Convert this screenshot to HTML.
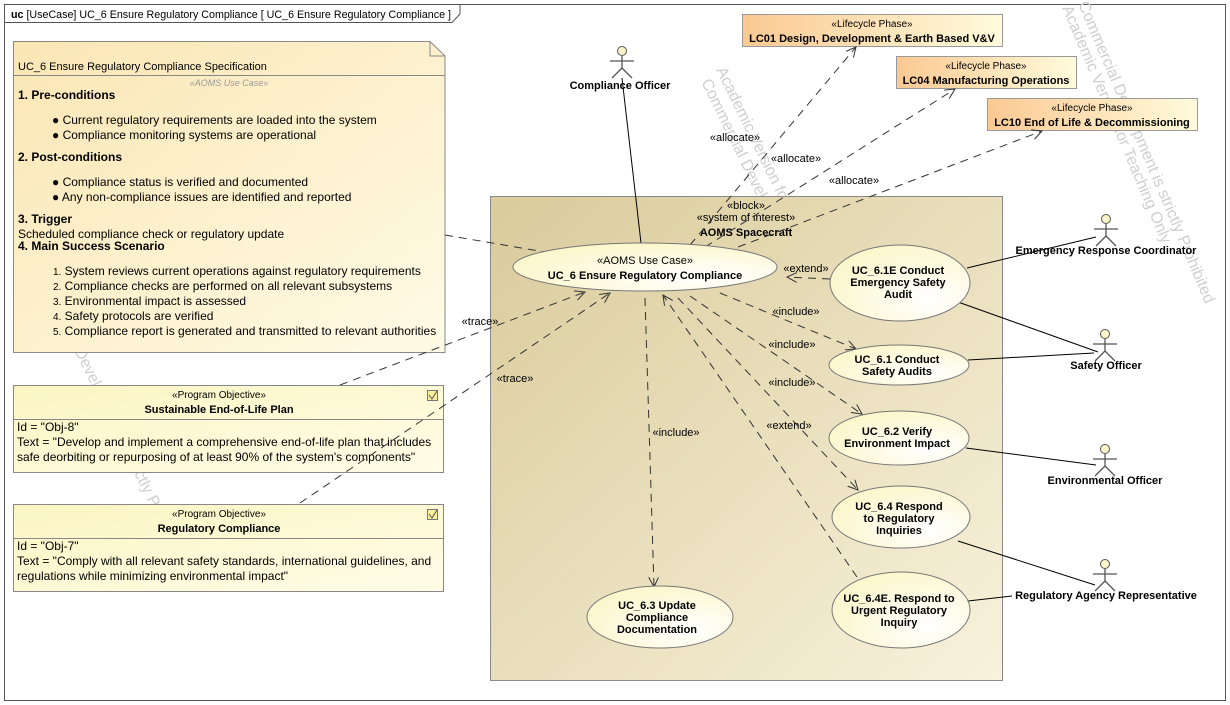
<!DOCTYPE html>
<html><head><meta charset="utf-8"><style>
html,body{margin:0;padding:0;background:#fff;width:1230px;height:705px;overflow:hidden}
svg{display:block}
text{font-family:"Liberation Sans",Arial,sans-serif;font-size:11px;fill:#000}
.b{font-weight:bold}
.d{stroke:#333;stroke-width:1;fill:none;stroke-dasharray:8,6}
.s{stroke:#000;stroke-width:1;fill:none}
.w{fill:#cfcfcf;font-size:16px}
.n{font-size:12px}
</style></head><body>
<svg width="1230" height="705" viewBox="0 0 1230 705" xmlns="http://www.w3.org/2000/svg">
<defs>
<linearGradient id="gn" x1="0" y1="0" x2="1" y2="1"><stop offset="0" stop-color="#fbe6b4"/><stop offset="1" stop-color="#fffbe6"/></linearGradient>
<linearGradient id="gb" x1="0" y1="0" x2="1" y2="1"><stop offset="0" stop-color="#dacb9b"/><stop offset="1" stop-color="#f8f2dc"/></linearGradient>
<linearGradient id="go" x1="0" y1="0" x2="1" y2="0"><stop offset="0" stop-color="#fbc992"/><stop offset="1" stop-color="#fffbdc"/></linearGradient>
<radialGradient id="ge" cx="0.7" cy="0.7" r="0.8"><stop offset="0" stop-color="#ffffff"/><stop offset="1" stop-color="#fbf6c8"/></radialGradient>
<linearGradient id="gp" x1="0" y1="0" x2="1" y2="1"><stop offset="0" stop-color="#fbf5c2"/><stop offset="1" stop-color="#fffde8"/></linearGradient>
<marker id="ar" markerWidth="12" markerHeight="12" refX="10" refY="5" orient="auto" markerUnits="userSpaceOnUse"><path d="M0,0 L10,5 L0,10" fill="none" stroke="#333"/></marker>
<symbol id="actor" viewBox="0 0 30 34"><circle cx="15" cy="5" r="4.5" fill="#fbf6c8" stroke="#555"/><path d="M15,10 V22 M3,15 H27 M15,22 L5,32 M15,22 L25,32" stroke="#555" stroke-width="1.3" fill="none"/></symbol>
</defs>

<rect x="4.5" y="4.5" width="1221" height="696" fill="#fff" stroke="#555"/>
<path d="M4.5,22.5 H452 L460,14 V4.5" fill="none" stroke="#555"/>
<text x="11" y="18" textLength="440" lengthAdjust="spacingAndGlyphs"><tspan class="b">uc</tspan> [UseCase] UC_6 Ensure Regulatory Compliance [ UC_6 Ensure Regulatory Compliance ]</text>

<text class="w" transform="translate(1062,8) rotate(67)">Academic Version for Teaching Only</text>
<text class="w" transform="translate(1078,4) rotate(67)">Commercial Development is strictly Prohibited</text>
<text class="w" transform="translate(716,70) rotate(64)">Academic Version for Teaching Only</text>
<text class="w" transform="translate(701,82) rotate(64)">Commercial Development is strictly Prohibited</text>
<text class="w" transform="translate(35,270) rotate(64)">Commercial Development is strictly Prohibited</text>

<path d="M13.5,41.5 H430 L445,56 V352.5 H13.5 Z" fill="url(#gn)" stroke="#888"/>
<path d="M430,41.5 V56 H445" fill="none" stroke="#888"/>
<line x1="13.5" y1="75.5" x2="445" y2="75.5" stroke="#888"/>
<text x="18" y="70">UC_6 Ensure Regulatory Compliance Specification</text>
<text x="229" y="86" text-anchor="middle" style="font-size:9px;font-style:italic;fill:#999">«AOMS Use Case»</text>
<text x="18" y="99" class="b n">1. Pre-conditions</text>
<text x="52" y="124" class="n">●  Current regulatory requirements are loaded into the system</text>
<text x="52" y="139" class="n">●  Compliance monitoring systems are operational</text>
<text x="18" y="161" class="b n">2. Post-conditions</text>
<text x="52" y="186" class="n">●  Compliance status is verified and documented</text>
<text x="52" y="201" class="n">●  Any non-compliance issues are identified and reported</text>
<text x="18" y="223" class="b n">3. Trigger</text>
<text x="18" y="238" class="n">Scheduled compliance check or regulatory update</text>
<text x="18" y="250" class="b n">4. Main Success Scenario</text>
<text x="53" y="275" class="n"><tspan style="font-size:10px">1.</tspan>  System reviews current operations against regulatory requirements</text>
<text x="53" y="290" class="n"><tspan style="font-size:10px">2.</tspan>  Compliance checks are performed on all relevant subsystems</text>
<text x="53" y="305" class="n"><tspan style="font-size:10px">3.</tspan>  Environmental impact is assessed</text>
<text x="53" y="320" class="n"><tspan style="font-size:10px">4.</tspan>  Safety protocols are verified</text>
<text x="53" y="335" class="n"><tspan style="font-size:10px">5.</tspan>  Compliance report is generated and transmitted to relevant authorities</text>

<rect x="13.5" y="385.5" width="430" height="87" fill="url(#gp)" stroke="#888"/>
<line x1="13.5" y1="419.5" x2="443.5" y2="419.5" stroke="#888"/>
<text x="219" y="398" text-anchor="middle" style="font-size:10px">«Program Objective»</text>
<text x="219" y="413" text-anchor="middle" class="b">Sustainable End-of-Life Plan</text>
<rect x="427.5" y="390.5" width="10" height="10" fill="#fbf0a0" stroke="#777"/><path d="M429,395 L432,399 L437,391" stroke="#555" fill="none"/>
<text x="17" y="431" class="n">Id = "Obj-8"</text>
<text x="17" y="446" class="n">Text = "Develop and implement a comprehensive end-of-life plan that includes</text>
<text x="17" y="461" class="n">safe deorbiting or repurposing of at least 90% of the system's components"</text>

<rect x="13.5" y="504.5" width="430" height="87" fill="url(#gp)" stroke="#888"/>
<line x1="13.5" y1="538.5" x2="443.5" y2="538.5" stroke="#888"/>
<text x="219" y="517" text-anchor="middle" style="font-size:10px">«Program Objective»</text>
<text x="219" y="532" text-anchor="middle" class="b">Regulatory Compliance</text>
<rect x="427.5" y="509.5" width="10" height="10" fill="#fbf0a0" stroke="#777"/><path d="M429,514 L432,518 L437,510" stroke="#555" fill="none"/>
<text x="17" y="550" class="n">Id = "Obj-7"</text>
<text x="17" y="565" class="n">Text = "Comply with all relevant safety standards, international guidelines, and</text>
<text x="17" y="580" class="n">regulations while minimizing environmental impact"</text>

<rect x="742.5" y="14.5" width="260" height="32" fill="url(#go)" stroke="#999"/>
<text x="872" y="27" text-anchor="middle" style="font-size:10px">«Lifecycle Phase»</text>
<text x="872" y="42" text-anchor="middle" class="b">LC01 Design, Development &amp; Earth Based V&amp;V</text>
<rect x="896.5" y="56.5" width="180" height="32" fill="url(#go)" stroke="#999"/>
<text x="986" y="69" text-anchor="middle" style="font-size:10px">«Lifecycle Phase»</text>
<text x="986" y="84" text-anchor="middle" class="b">LC04 Manufacturing Operations</text>
<rect x="987.5" y="98.5" width="210" height="32" fill="url(#go)" stroke="#999"/>
<text x="1092" y="111" text-anchor="middle" style="font-size:10px">«Lifecycle Phase»</text>
<text x="1092" y="126" text-anchor="middle" class="b">LC10 End of Life &amp; Decommissioning</text>

<rect x="490.5" y="196.5" width="512" height="484" fill="url(#gb)" stroke="#888"/>
<text x="746" y="209" text-anchor="middle">«block»</text>
<text x="746" y="221" text-anchor="middle">«system of interest»</text>
<text x="746" y="236" text-anchor="middle" class="b">AOMS Spacecraft</text>

<line class="d" x1="445" y1="235" x2="545" y2="252"/>
<line class="d" x1="690" y1="245" x2="856" y2="47" marker-end="url(#ar)"/>
<line class="d" x1="705" y1="247" x2="955" y2="89" marker-end="url(#ar)"/>
<line class="d" x1="725" y1="252" x2="1042" y2="131" marker-end="url(#ar)"/>
<line class="d" x1="340" y1="385" x2="585" y2="292" marker-end="url(#ar)"/>
<line class="d" x1="300" y1="503" x2="610" y2="293" marker-end="url(#ar)"/>
<line class="d" x1="720" y1="293" x2="856" y2="349" marker-end="url(#ar)"/>
<line class="d" x1="690" y1="296" x2="862" y2="414" marker-end="url(#ar)"/>
<line class="d" x1="678" y1="298" x2="858" y2="490" marker-end="url(#ar)"/>
<line class="d" x1="857" y1="577" x2="663" y2="295" marker-end="url(#ar)"/>
<line class="d" x1="830" y1="279" x2="787" y2="277" marker-end="url(#ar)"/>
<line class="d" x1="645" y1="298" x2="654" y2="587" marker-end="url(#ar)"/>
<text x="735" y="141" text-anchor="middle">«allocate»</text>
<text x="796" y="162" text-anchor="middle">«allocate»</text>
<text x="854" y="184" text-anchor="middle">«allocate»</text>
<text x="480" y="325" text-anchor="middle">«trace»</text>
<text x="515" y="382" text-anchor="middle">«trace»</text>
<text x="796" y="315" text-anchor="middle">«include»</text>
<text x="792" y="348" text-anchor="middle">«include»</text>
<text x="792" y="386" text-anchor="middle">«include»</text>
<text x="789" y="429" text-anchor="middle">«extend»</text>
<text x="806" y="272" text-anchor="middle">«extend»</text>
<text x="676" y="436" text-anchor="middle">«include»</text>

<line class="s" x1="622" y1="78" x2="641" y2="243"/>
<line class="s" x1="967" y1="268" x2="1096" y2="237"/>
<line class="s" x1="958" y1="302" x2="1098" y2="352"/>
<line class="s" x1="968" y1="360" x2="1094" y2="353"/>
<line class="s" x1="966" y1="448" x2="1096" y2="465"/>
<line class="s" x1="958" y1="541" x2="1095" y2="585"/>
<line class="s" x1="968" y1="601" x2="1012" y2="596"/>

<g stroke="#777" fill="url(#ge)">
<ellipse cx="645" cy="267" rx="132" ry="24"/>
<ellipse cx="900" cy="283" rx="70" ry="38"/>
<ellipse cx="899" cy="365" rx="70" ry="20"/>
<ellipse cx="899" cy="438" rx="70" ry="27"/>
<ellipse cx="901" cy="517" rx="69" ry="31"/>
<ellipse cx="901" cy="610" rx="69" ry="38"/>
<ellipse cx="660" cy="617" rx="73" ry="31"/>
</g>
<text x="645" y="264" text-anchor="middle" style="font-size:11px">«AOMS Use Case»</text>
<text x="645" y="279" text-anchor="middle" class="b">UC_6 Ensure Regulatory Compliance</text>
<g text-anchor="middle">
<text x="898" y="274" class="b">UC_6.1E Conduct</text><text x="898" y="286" class="b">Emergency Safety</text><text x="898" y="298" class="b">Audit</text>
<text x="897" y="363" class="b">UC_6.1 Conduct</text><text x="897" y="375" class="b">Safety Audits</text>
<text x="897" y="435" class="b">UC_6.2 Verify</text><text x="897" y="447" class="b">Environment Impact</text>
<text x="899" y="510" class="b">UC_6.4 Respond</text><text x="899" y="522" class="b">to Regulatory</text><text x="899" y="534" class="b">Inquiries</text>
<text x="899" y="602" class="b">UC_6.4E. Respond to</text><text x="899" y="614" class="b">Urgent Regulatory</text><text x="899" y="626" class="b">Inquiry</text>
<text x="657" y="609" class="b">UC_6.3 Update</text><text x="657" y="621" class="b">Compliance</text><text x="657" y="633" class="b">Documentation</text>
</g>

<use href="#actor" x="607" y="46" width="30" height="34"/>
<text x="620" y="89" text-anchor="middle" class="b">Compliance Officer</text>
<use href="#actor" x="1091" y="214" width="30" height="34"/>
<text x="1106" y="254" text-anchor="middle" class="b">Emergency Response Coordinator</text>
<use href="#actor" x="1090" y="329" width="30" height="34"/>
<text x="1106" y="369" text-anchor="middle" class="b">Safety Officer</text>
<use href="#actor" x="1090" y="444" width="30" height="34"/>
<text x="1105" y="484" text-anchor="middle" class="b">Environmental Officer</text>
<use href="#actor" x="1090" y="559" width="30" height="34"/>
<text x="1106" y="599" text-anchor="middle" class="b">Regulatory Agency Representative</text>
</svg>
</body></html>
